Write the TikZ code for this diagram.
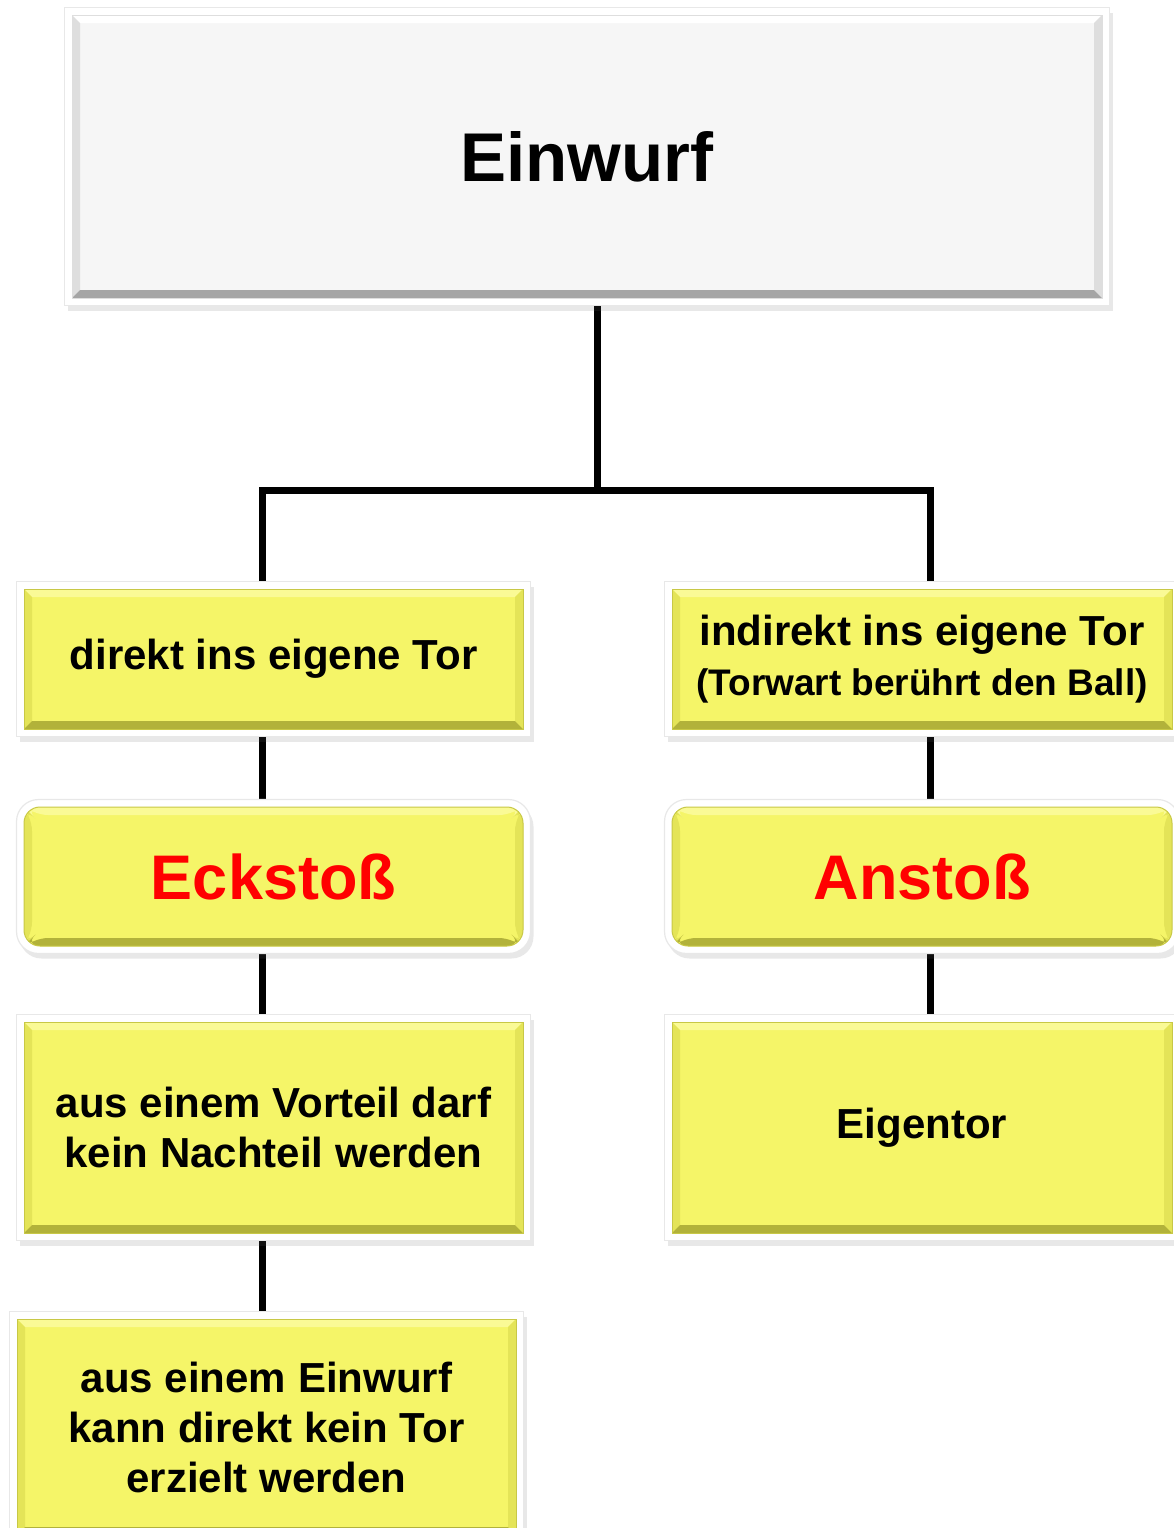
\documentclass[tikz,border=0pt]{standalone}
\usepackage{fontspec}
\setmainfont{Liberation Sans}
\usetikzlibrary{shadows, fit, backgrounds}
\definecolor{cardyellow}{RGB}{245,245,104}
\definecolor{cardtop}{RGB}{250,250,150}
\definecolor{cardside}{RGB}{228,228,88}
\definecolor{cardbottom}{RGB}{178,178,58}
\definecolor{cardline}{RGB}{200,200,70}
\definecolor{headgray}{RGB}{246,246,246}
\definecolor{headside}{RGB}{222,222,222}
\definecolor{headbottom}{RGB}{165,165,165}
\definecolor{signalred}{RGB}{255,0,0}
\tikzset{%
	bevel/.style n args={4}{
		path picture={
			\coordinate (bsw) at (path picture bounding box.south west);
			\coordinate (bse) at (path picture bounding box.south east);
			\coordinate (bnw) at (path picture bounding box.north west);
			\coordinate (bne) at (path picture bounding box.north east);
			% top, left, right, bottom edge
			\fill[#1] (bnw) -- (bne) -- ([shift={(-4pt,-4pt)}]bne) -- ([shift={(4pt,-4pt)}]bnw) -- cycle;
			\fill[#2] (bnw) -- ([shift={(4pt,-4pt)}]bnw) -- ([shift={(4pt,4pt)}]bsw) -- (bsw) -- cycle;
			\fill[#3] (bne) -- ([shift={(-4pt,-4pt)}]bne) -- ([shift={(-4pt,4pt)}]bse) -- (bse) -- cycle;
			\fill[#4] (bsw) -- ([shift={(4pt,4pt)}]bsw) -- ([shift={(-4pt,4pt)}]bse) -- (bse) -- cycle;
		}
	},
	card/.style={
		rectangle,
		fill=cardyellow,
		draw=cardline,
		line width=0.5pt,
		inner sep=0pt,
		align=center,
		minimum width=249.5pt,
		bevel={cardtop}{cardside}{cardside}{cardbottom},
		font=\bfseries\fontsize{21}{25}\selectfont
	},
	roundcard/.style={
		card,
		rounded corners=8pt,
		text=signalred,
		font=\bfseries\fontsize{31.5}{36}\selectfont
	},
	headcard/.style={
		card,
		fill=headgray,
		draw=headside,
		bevel={white}{headside}{headside}{headbottom},
		font=\bfseries\fontsize{34.5}{40}\selectfont
	},
	frame/.style={
		rectangle,
		fill=white,
		draw=black!9,
		line width=0.6pt,
		inner sep=3.5pt,
		drop shadow={opacity=.15, shadow xshift=1.5pt, shadow yshift=-2.5pt, fill=black!60}
	},
	link/.style={
		draw=black,
		line width=3.5pt
	},
}
\begin{document}
\begin{tikzpicture}[x=0.5pt, y=-0.5pt]
	\useasboundingbox (0,0) rectangle (1174,1528);
	
	% header
	\node[headcard, minimum width=515pt, minimum height=141.5pt] (einwurf) at (587,156.5) {Einwurf};
	
	% left column
	\node[card, minimum height=70pt] (direkt) at (273.5,659) {direkt ins eigene Tor};
	\node[roundcard, minimum height=69.5pt] (eckstoss) at (273.5,876.5) {Eckstoß};
	\node[card, minimum height=105.5pt] (vorteil) at (273.5,1127.5) {aus einem Vorteil darf\\kein Nachteil werden};
	\node[card, minimum height=108pt] (kein) at (266.5,1427) {aus einem Einwurf\\kann direkt kein Tor\\erzielt werden};
	
	% right column
	\node[card, minimum width=250pt, minimum height=70pt] (indirekt) at (922,659) {indirekt ins eigene Tor\\{\fontsize{18.5}{24}\selectfont(Torwart berührt den Ball)}};
	\node[roundcard, minimum width=250pt, minimum height=69.5pt] (anstoss) at (922,876.5) {Anstoß};
	\node[card, minimum width=250pt, minimum height=105.5pt] (eigentor) at (922,1127.5) {Eigentor};
	
	\coordinate (split) at (597,490);
	\coordinate (lcol) at (262,0);
	\coordinate (rcol) at (930,0);
	
	\begin{scope}[on background layer]
		% connectors
		\draw[link] (einwurf.south -| split) -- (split);
		\draw[link] (direkt.north -| lcol) |- (split) -| (indirekt.north -| rcol);
		\draw[link] (direkt.south -| lcol) -- (eckstoss.north -| lcol);
		\draw[link] (eckstoss.south -| lcol) -- (vorteil.north -| lcol);
		\draw[link] (vorteil.south -| lcol) -- (kein.north -| lcol);
		\draw[link] (indirekt.south -| rcol) -- (anstoss.north -| rcol);
		\draw[link] (anstoss.south -| rcol) -- (eigentor.north -| rcol);
		% white frames
		\foreach \n in {einwurf,direkt,vorteil,kein,indirekt,eigentor}
			\node[frame, fit=(\n)] {};
		\foreach \n in {eckstoss,anstoss}
			\node[frame, rounded corners=11pt, fit=(\n)] {};
	\end{scope}
\end{tikzpicture}
\end{document}
